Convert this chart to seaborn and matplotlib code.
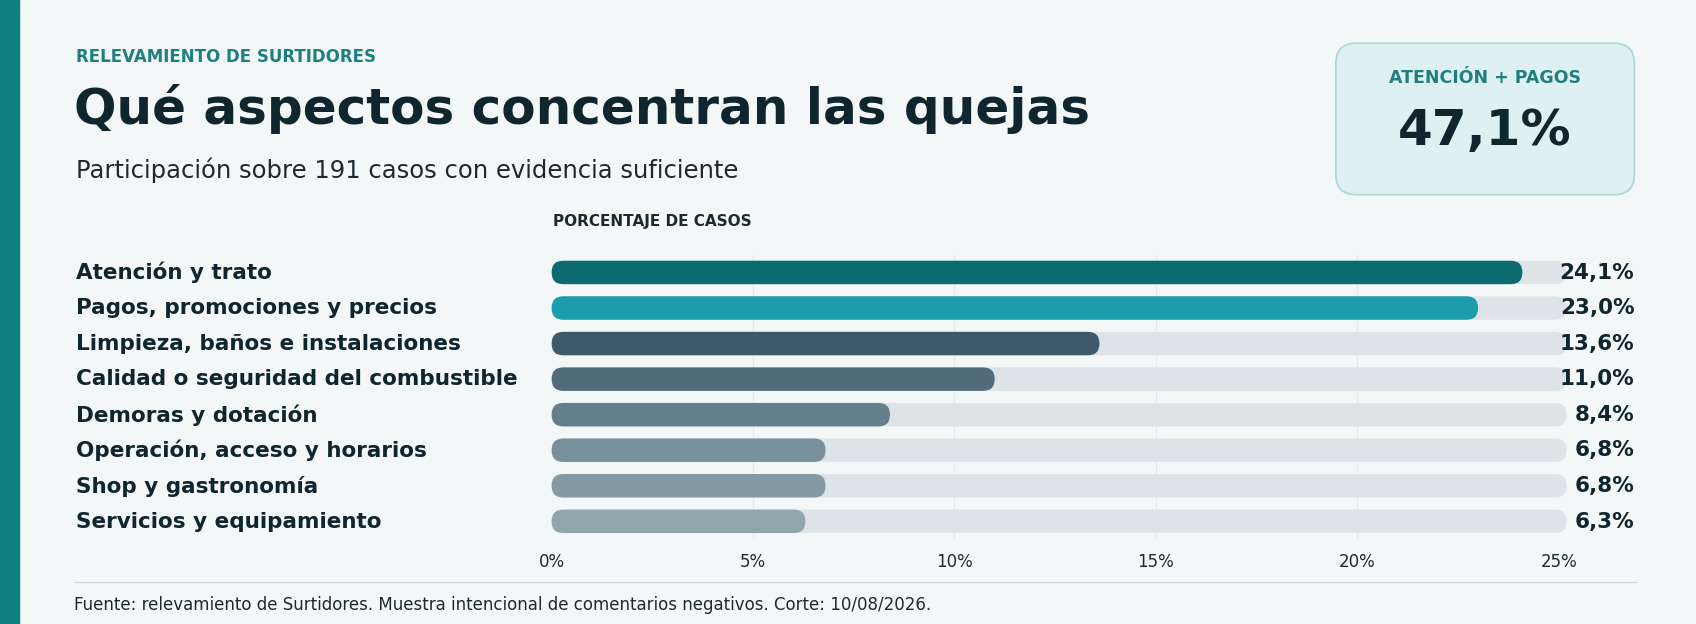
import matplotlib
matplotlib.use("Agg")
import matplotlib.pyplot as plt
import seaborn as sns
import pandas as pd
from matplotlib.patches import FancyBboxPatch

categories = ["Atención y trato", "Pagos, promociones y precios", "Limpieza, baños e instalaciones",
              "Calidad o seguridad del combustible", "Demoras y dotación", "Operación, acceso y horarios",
              "Shop y gastronomía", "Servicios y equipamiento"]
values = [24.1, 23.0, 13.6, 11.0, 8.4, 6.8, 6.8, 6.3]
value_labels = ["24,1%", "23,0%", "13,6%", "11,0%", "8,4%", "6,8%", "6,8%", "6,3%"]
bar_colors = ["#0b6b70", "#1a9eab", "#3e5a6c", "#506b7b", "#647f8c", "#77909b", "#8399a3", "#90a6ad"]
ticks = [0, 5, 10, 15, 20, 25]
tick_labels = ["0%", "5%", "10%", "15%", "20%", "25%"]
track_max = 25.2

sns.set_theme(style="white")
plt.rcParams['font.family'] = ['DejaVu Sans']
BG = "#f3f7f8"
DARK = "#10262e"
TEAL = "#1f7f7f"

W, H = 1568, 577
fig = plt.figure(figsize=(16.96, 6.24), dpi=100, facecolor=BG)
def fx(x): return x / W
def fy(y): return 1 - y / H

ax = fig.add_axes([fx(510), fy(498.5), fx(1441) - fx(510), fy(235.5) - fy(498.5)])
ax.set_facecolor(BG)
df = pd.DataFrame({"cat": categories, "val": values, "track": [track_max] * len(values)})
sns.barplot(data=df, x="track", y="cat", color="#dde3e6", saturation=1, width=0.66, ax=ax)
sns.barplot(data=df, x="val", y="cat", hue="cat", palette=bar_colors, saturation=1, width=0.66, legend=False, ax=ax)
ax.set_xlim(0, 25)
ax.set_ylim(7.5, -0.5)
for t in ticks[1:-1]:
    ax.axvline(t, color="#e3e8ea", lw=0.8, zorder=0)
for s in ax.spines.values():
    s.set_visible(False)
ax.set_xticks(ticks)
ax.set_xticklabels(tick_labels, fontsize=12, color="#1c2a30")
ax.tick_params(axis="x", length=0, pad=10)
ax.set_yticks([])
ax.set_xlabel(""); ax.set_ylabel("")

fig.canvas.draw()
bb = ax.get_window_extent()
xpp = 25 / bb.width
ypp = 8 / bb.height
aspect = ypp / xpp
patches = list(ax.patches)
for p in patches:
    x0, y0, w, h = p.get_x(), p.get_y(), p.get_width(), p.get_height()
    r = h / 2 / aspect
    fb = FancyBboxPatch((x0, y0), w, h, boxstyle=f"round,pad=0,rounding_size={r}",
                        mutation_aspect=aspect, facecolor=p.get_facecolor(), edgecolor="none",
                        zorder=2, clip_on=False)
    ax.add_patch(fb)
    p.set_visible(False)

for i, (c, lab) in enumerate(zip(categories, value_labels)):
    y = 252 + i * 32.9
    fig.text(fx(70), fy(y), c, fontsize=15.5, fontweight="bold", color=DARK, va="center")
    fig.text(fx(1511), fy(y), lab, fontsize=15.5, fontweight="bold", color=DARK, va="center", ha="right")

fig.patches.append(plt.Rectangle((0, 0), fx(18), 1, transform=fig.transFigure, color="#0f7f80"))
fig.text(fx(70), fy(53), "RELEVAMIENTO DE SURTIDORES", fontsize=12, fontweight="bold", color=TEAL, va="center")
fig.text(fx(68), fy(101), "Qué aspectos concentran las quejas", fontsize=36, fontweight="bold", color=DARK, va="center")
fig.text(fx(70), fy(157), "Participación sobre 191 casos con evidencia suficiente", fontsize=17.5, color="#1c2a30", va="center")
fig.text(fx(511), fy(205), "PORCENTAJE DE CASOS", fontsize=11, fontweight="bold", color="#1c2a30", va="center")

box = FancyBboxPatch((fx(1235), fy(180)), fx(1511) - fx(1235), fy(40) - fy(180),
                     boxstyle="round,pad=0,rounding_size=0.012", transform=fig.transFigure,
                     facecolor="#dff0f2", edgecolor="#a9d6d9", lw=1.2, mutation_aspect=2.7)
fig.patches.append(box)
fig.text(fx(1373), fy(72), "ATENCIÓN + PAGOS", fontsize=12.5, fontweight="bold", color=TEAL, ha="center", va="center")
fig.text(fx(1373), fy(121), "47,1%", fontsize=36, fontweight="bold", color=DARK, ha="center", va="center")

fig.add_artist(plt.Line2D([fx(68), fx(1513)], [fy(538), fy(538)], transform=fig.transFigure, color="#d3dadd", lw=1))
fig.text(fx(68), fy(559), "Fuente: relevamiento de Surtidores. Muestra intencional de comentarios negativos. Corte: 10/08/2026.",
         fontsize=12, color="#1c2a30", va="center")

fig.savefig("out.png", dpi=100, facecolor=BG)
